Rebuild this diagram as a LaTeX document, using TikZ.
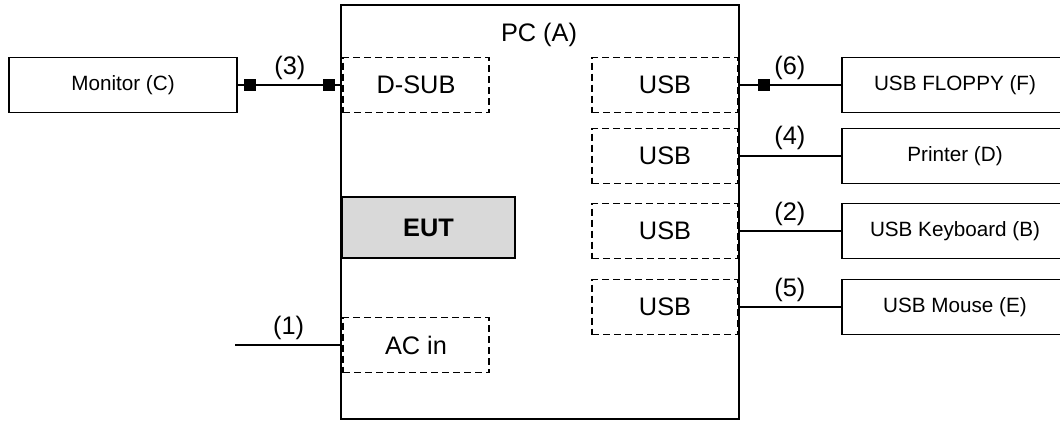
\documentclass[tikz,border=0pt]{standalone}
\usepackage{fontspec}
\setmainfont{Liberation Sans}
\usetikzlibrary{positioning}
\tikzset{every picture/.style={line width=1.3pt}}

\begin{document}
\begin{tikzpicture}[x=0.75pt,y=-0.75pt,
  big/.style={font=\fontsize{19}{22}\selectfont},
  dev/.style={draw, minimum width=169.5pt, minimum height=41.25pt, font=\fontsize{15.5}{18}\selectfont},
  port/.style={draw, dash pattern=on 5.25pt off 3pt, line width=1pt, minimum width=109.5pt, minimum height=41.25pt, big},
  plug/.style={fill, minimum size=9pt, inner sep=0pt},
  num/.style={above, big}]
  \useasboundingbox (0,0) rectangle (1060,421);

  % ports inside the PC
  \node[port] (dsub) at (416,85) {D-SUB};
  \node[port] (acin) at (416,345) {AC in};
  \foreach \n/\y in {1/85,2/156,3/231,4/307}
    \node[port] (usb\n) at (665,\y) {USB};

  \node[draw, minimum width=298.5pt, minimum height=310pt] (pc) at (540,212) {};
  \node[big] (pclabel) at (539,35) {PC (A)};
  \node[draw, fill=gray!30, minimum width=129.75pt, minimum height=45.75pt,
    font=\fontsize{19}{22}\selectfont\bfseries] (eut) at (428.5,227.5) {EUT};

  % peripherals
  \node[dev, minimum width=170.5pt] (mon) at (123,85) {Monitor (C)};
  \node[dev] (flop) at (955,85) {USB FLOPPY (F)};
  \node[dev] (prn) at (955,156) {Printer (D)};
  \node[dev] (kbd) at (955,231) {USB Keyboard (B)};
  \node[dev] (mouse) at (955,307) {USB Mouse (E)};
  \coordinate (acfree) at (235,345);

  % cables
  \draw (mon) -- node[num] (l3) {(3)} node[plug, pos=0.12] (p3a) {}
    node[plug, pos=0.87] (p3b) {} (dsub);
  \draw (usb1) -- node[num] (l6) {(6)} node[plug, pos=0.25] (p6) {} (flop);
  \draw[line width=2.2pt] (usb2) -- node[num] (l4) {(4)} (prn);
  \draw (usb3) -- node[num] (l2) {(2)} (kbd);
  \draw (usb4) -- node[num] (l5) {(5)} (mouse);
  \draw (acfree) -- node[num] (l1) {(1)} (acin);
\end{tikzpicture}
\end{document}
